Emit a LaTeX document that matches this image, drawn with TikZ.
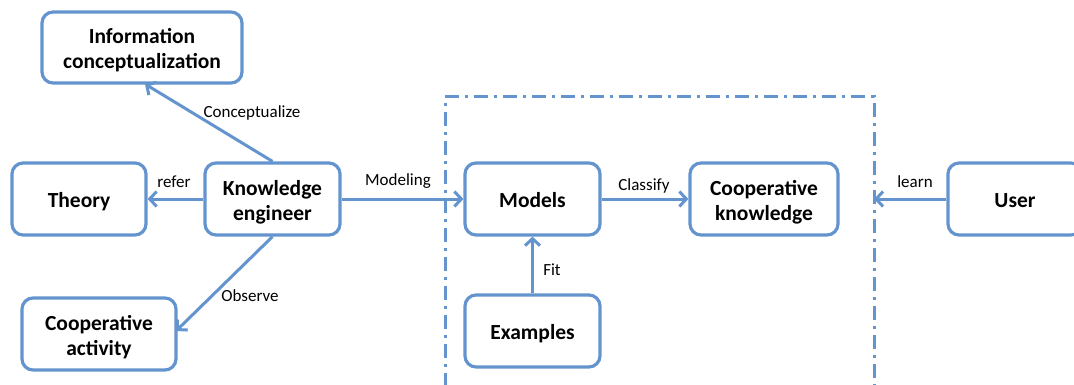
\documentclass[tikz,border=0pt]{standalone}
\usepackage{fontspec}
\setmainfont{Carlito}
\usetikzlibrary{arrows.meta}
\definecolor{lineblue}{HTML}{6494CE}
\newcommand\boxtext[1]{\raisebox{-3.5pt}[\height][\depth]{\begin{tabular}{@{}c@{}}#1\end{tabular}}}
\tikzset{
  box/.style={draw=lineblue, line width=3.2pt, rounded corners=11pt, fill=white,
    font=\fontsize{21.5}{25}\selectfont\bfseries, inner sep=0pt},
  conn/.style={draw=lineblue, line width=3pt, -{Straight Barb[length=7pt,width=15pt]}},
  lbl/.style={font=\fontsize{17}{20}\selectfont, inner sep=0pt},
  frame/.style={draw=lineblue, line width=3pt, dash pattern=on 14pt off 6pt on 3pt off 6pt}
}
\begin{document}
\begin{tikzpicture}[x=1pt,y=-1pt]
\useasboundingbox (0,0) rectangle (1074,385);
\draw[frame] (445,387) -- (445,97) -- (874,97) -- (874,387);
\node[box, minimum width=200pt, minimum height=71pt] (info) at (142,47.5) {\boxtext{Information\\conceptualization}};
\node[box, minimum width=134pt, minimum height=72pt] (theory) at (79,199) {\boxtext{Theory}};
\node[box, minimum width=135pt, minimum height=72pt] (ke) at (272.5,199) {\boxtext{Knowledge\\engineer}};
\node[box, minimum width=154pt, minimum height=72pt] (ca) at (99,334) {\boxtext{Cooperative\\activity}};
\node[box, minimum width=135pt, minimum height=72pt] (models) at (532.5,199) {\boxtext{Models}};
\node[box, minimum width=148pt, minimum height=72pt] (ck) at (764,199) {\boxtext{Cooperative\\knowledge}};
\node[box, minimum width=134pt, minimum height=72pt] (user) at (1015,199) {\boxtext{User}};
\node[box, minimum width=135pt, minimum height=72pt] (ex) at (532.5,331) {\boxtext{Examples}};
\coordinate (fr) at (874,199);
\draw[conn] (ke.north) -- (145,84);
\draw[conn] (ke.west) -- (theory.east);
\draw[conn] (ke.south) -- (176,331);
\draw[conn] (ke.east) -- (models.west);
\draw[conn] (models.east) -- (ck.west);
\draw[conn] (ex.north) -- (models.south);
\draw[conn] (user.west) -- (fr);
\node[lbl] at (252,113) {Conceptualize};
\node[lbl] at (174,182) {refer};
\node[lbl] at (250,296) {Observe};
\node[lbl] at (398,181) {Modeling};
\node[lbl] at (644,186) {Classify};
\node[lbl] at (552,270) {Fit};
\node[lbl] at (915,182) {learn};
\end{tikzpicture}
\end{document}
